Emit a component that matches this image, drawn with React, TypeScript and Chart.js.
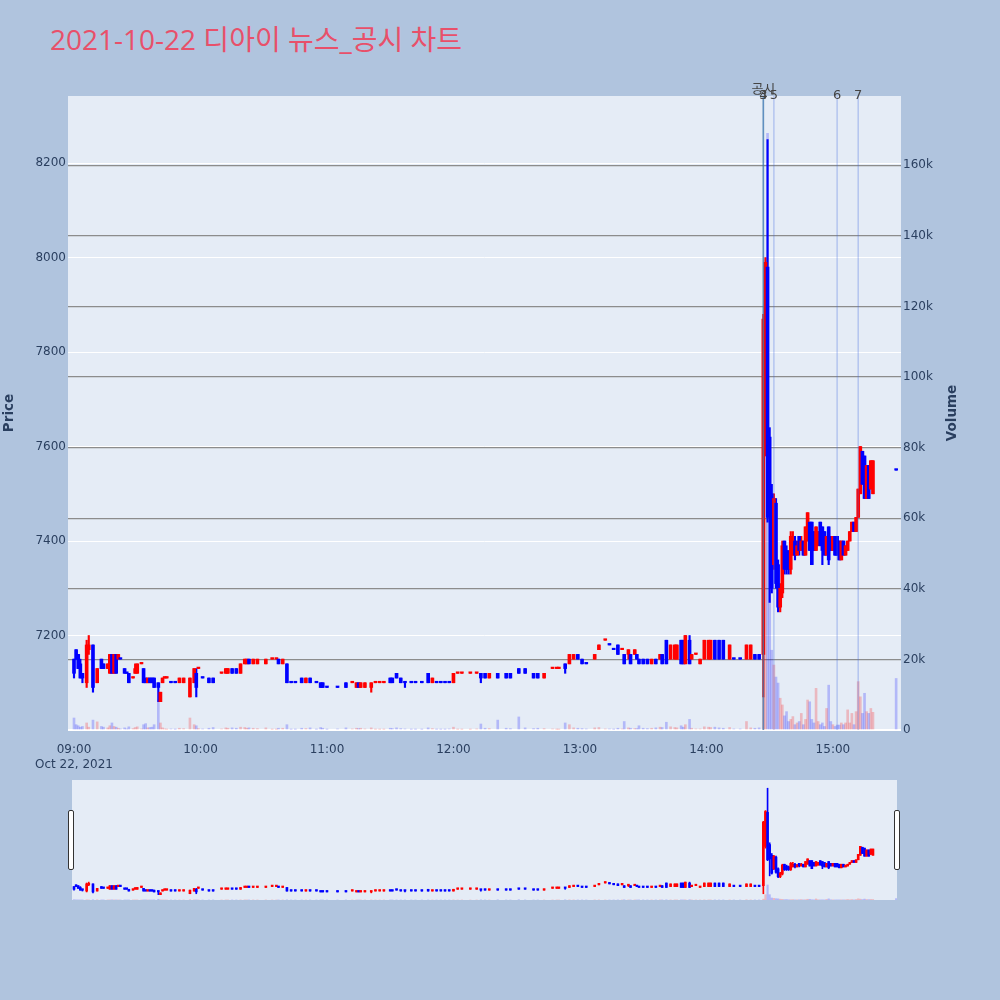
import { useEffect, useRef } from "react"
import { Chart, registerables } from "chart.js"

Chart.register(...registerables)

// 1-minute candles, minutes counted from 09:00
const minutes = [
  // 09:00 - 09:59
  0, 1, 2, 3, 4, 6, 7, 9, 11, 13,
  14, 16, 17, 18, 19, 20, 21, 22, 24, 25,
  26, 28, 29, 30, 32, 33, 34, 35, 36, 37,
  38, 40, 41, 42, 43, 44, 46, 48, 50, 52,
  55, 57, 58, 59,
  // 10:00 - 11:59
  61, 64, 66, 70, 72, 73, 75, 77, 79, 81,
  82, 83, 85, 87, 91, 94, 96, 97, 99, 101,
  103, 105, 108, 110, 112, 115, 117, 118, 120, 125,
  129, 132, 134, 135, 136, 138, 141, 143, 145, 147,
  150, 151, 153, 155, 157, 160, 162, 165, 168, 170,
  172, 174, 176, 178,
  // 12:00 - 13:59
  180, 182, 184, 188, 191, 193, 195, 197, 201, 205,
  207, 211, 214, 218, 220, 223, 227, 229, 230, 233,
  235, 237, 239, 241, 243, 247, 249, 252, 254, 256,
  258, 260, 261, 263, 264, 266, 267, 268, 270, 272,
  274, 276, 278, 279, 281, 283, 285, 286, 288, 289,
  290, 292, 293, 295, 297,
  // 14:00 - 14:26
  299, 301, 302, 304, 306, 308, 311, 313, 316, 319,
  321, 323, 325,
  // 14:27 - 15:30
  327, 328, 329, 330, 331, 332, 333, 334, 335, 336,
  337, 338, 339, 340, 341, 342, 343, 344, 345, 346,
  347, 348, 349, 350, 351, 352, 353, 354, 355, 356,
  357, 358, 359, 360, 361, 362, 363, 364, 365, 366,
  367, 368, 369, 370, 371, 372, 373, 374, 375, 376,
  377, 378, 379, 390,
]

const opens = [
  7150, 7170, 7160, 7140, 7120, 7100, 7170, 7180, 7100, 7150,
  7140, 7130, 7120, 7160, 7120, 7160, 7150, 7150, 7130, 7120,
  7120, 7110, 7120, 7120, 7140, 7130, 7110, 7100, 7110, 7110,
  7110, 7100, 7060, 7100, 7110, 7110, 7100, 7100, 7100, 7100,
  7070, 7100, 7120, 7130,

  7110, 7110, 7110, 7120, 7120, 7120, 7130, 7130, 7120, 7140,
  7140, 7150, 7140, 7140, 7140, 7150, 7150, 7150, 7140, 7140,
  7100, 7100, 7110, 7100, 7110, 7100, 7100, 7100, 7090, 7090,
  7100, 7100, 7090, 7100, 7090, 7090, 7090, 7100, 7100, 7100,
  7110, 7110, 7120, 7110, 7100, 7100, 7100, 7100, 7120, 7100,
  7100, 7100, 7100, 7100,

  7100, 7120, 7120, 7120, 7120, 7120, 7120, 7110, 7120, 7120,
  7120, 7130, 7130, 7120, 7120, 7110, 7130, 7130, 7130, 7140,
  7140, 7150, 7160, 7150, 7140, 7150, 7170, 7190, 7180, 7170,
  7180, 7170, 7160, 7160, 7160, 7160, 7160, 7150, 7150, 7150,
  7140, 7150, 7150, 7160, 7190, 7150, 7150, 7150, 7190, 7190,
  7140, 7190, 7150, 7160, 7140,

  7150, 7150, 7150, 7190, 7190, 7190, 7150, 7150, 7150, 7150,
  7150, 7160, 7160,

  7160, 7600, 7980, 7620, 7500, 7350, 7480, 7350, 7260, 7290,
  7400, 7380, 7370, 7340, 7370, 7400, 7370, 7410, 7380, 7400,
  7370, 7400, 7440, 7440, 7420, 7380, 7390, 7440, 7430, 7420,
  7370, 7430, 7410, 7380, 7410, 7410, 7400, 7360, 7400, 7370,
  7380, 7400, 7420, 7440, 7420, 7450, 7500, 7590, 7580, 7490,
  7560, 7510, 7500, 7550,
]

const highs = [
  7150, 7170, 7160, 7150, 7120, 7190, 7200, 7180, 7130, 7150,
  7140, 7140, 7160, 7160, 7160, 7160, 7160, 7150, 7130, 7120,
  7120, 7110, 7140, 7140, 7140, 7130, 7110, 7110, 7110, 7110,
  7110, 7100, 7080, 7110, 7110, 7110, 7100, 7100, 7110, 7110,
  7110, 7130, 7130, 7130,

  7110, 7110, 7110, 7120, 7130, 7130, 7130, 7130, 7140, 7150,
  7150, 7150, 7150, 7150, 7150, 7150, 7150, 7150, 7150, 7140,
  7100, 7100, 7110, 7110, 7110, 7100, 7100, 7100, 7090, 7090,
  7100, 7100, 7100, 7100, 7100, 7100, 7100, 7100, 7100, 7100,
  7110, 7110, 7120, 7110, 7100, 7100, 7100, 7100, 7120, 7110,
  7100, 7100, 7100, 7100,

  7120, 7120, 7120, 7120, 7120, 7120, 7120, 7120, 7120, 7120,
  7120, 7130, 7130, 7120, 7120, 7120, 7130, 7130, 7130, 7140,
  7160, 7160, 7160, 7150, 7140, 7160, 7180, 7190, 7180, 7170,
  7180, 7170, 7160, 7170, 7160, 7170, 7160, 7150, 7150, 7150,
  7150, 7150, 7160, 7160, 7190, 7180, 7180, 7180, 7190, 7190,
  7200, 7200, 7160, 7160, 7150,

  7190, 7190, 7190, 7190, 7190, 7190, 7180, 7150, 7150, 7180,
  7180, 7160, 7160,

  7880, 8000, 8250, 7640, 7520, 7500, 7490, 7360, 7310, 7400,
  7400, 7390, 7380, 7420, 7420, 7410, 7400, 7410, 7410, 7400,
  7430, 7460, 7440, 7440, 7420, 7430, 7420, 7440, 7430, 7420,
  7410, 7430, 7410, 7410, 7410, 7410, 7400, 7400, 7400, 7390,
  7400, 7420, 7440, 7440, 7450, 7510, 7600, 7590, 7580, 7560,
  7560, 7570, 7570, 7550,
]

const lows = [
  7110, 7150, 7130, 7110, 7100, 7090, 7160, 7080, 7100, 7130,
  7130, 7130, 7120, 7120, 7120, 7120, 7150, 7150, 7120, 7120,
  7100, 7110, 7120, 7120, 7140, 7100, 7100, 7100, 7100, 7100,
  7090, 7060, 7060, 7100, 7110, 7110, 7100, 7100, 7100, 7100,
  7070, 7100, 7070, 7130,

  7110, 7100, 7100, 7120, 7120, 7120, 7120, 7120, 7120, 7140,
  7140, 7140, 7140, 7140, 7140, 7150, 7150, 7140, 7140, 7100,
  7100, 7100, 7100, 7100, 7100, 7100, 7090, 7090, 7090, 7090,
  7090, 7100, 7090, 7090, 7090, 7090, 7080, 7100, 7100, 7100,
  7100, 7100, 7110, 7100, 7090, 7100, 7100, 7100, 7100, 7100,
  7100, 7100, 7100, 7100,

  7100, 7120, 7120, 7120, 7120, 7100, 7110, 7110, 7110, 7110,
  7110, 7120, 7120, 7110, 7110, 7110, 7130, 7130, 7130, 7120,
  7140, 7150, 7150, 7140, 7140, 7150, 7170, 7190, 7180, 7170,
  7160, 7170, 7140, 7150, 7140, 7160, 7150, 7140, 7140, 7140,
  7140, 7140, 7150, 7140, 7140, 7150, 7150, 7150, 7140, 7140,
  7140, 7140, 7150, 7160, 7140,

  7150, 7150, 7150, 7150, 7150, 7150, 7150, 7150, 7150, 7150,
  7150, 7150, 7150,

  7070, 7580, 7440, 7270, 7290, 7340, 7300, 7250, 7250, 7280,
  7330, 7330, 7330, 7330, 7370, 7360, 7370, 7370, 7380, 7370,
  7370, 7400, 7380, 7350, 7380, 7380, 7390, 7390, 7350, 7370,
  7370, 7350, 7380, 7380, 7370, 7370, 7360, 7360, 7370, 7370,
  7380, 7400, 7420, 7420, 7420, 7450, 7500, 7520, 7490, 7490,
  7490, 7510, 7500, 7550,
]

const closes = [
  7120, 7150, 7130, 7110, 7110, 7180, 7180, 7090, 7130, 7130,
  7130, 7140, 7160, 7120, 7160, 7120, 7160, 7150, 7120, 7120,
  7100, 7110, 7130, 7140, 7140, 7100, 7100, 7110, 7100, 7100,
  7090, 7090, 7080, 7110, 7110, 7110, 7100, 7100, 7110, 7110,
  7110, 7130, 7090, 7130,

  7110, 7100, 7100, 7120, 7130, 7130, 7120, 7120, 7140, 7150,
  7150, 7140, 7150, 7150, 7150, 7150, 7150, 7140, 7150, 7100,
  7100, 7100, 7100, 7110, 7100, 7100, 7090, 7090, 7090, 7090,
  7090, 7100, 7100, 7090, 7100, 7100, 7100, 7100, 7100, 7100,
  7100, 7100, 7110, 7100, 7100, 7100, 7100, 7100, 7100, 7110,
  7100, 7100, 7100, 7100,

  7120, 7120, 7120, 7120, 7120, 7110, 7110, 7120, 7110, 7110,
  7110, 7120, 7120, 7110, 7110, 7120, 7130, 7130, 7130, 7130,
  7160, 7160, 7150, 7140, 7140, 7160, 7180, 7190, 7180, 7170,
  7160, 7170, 7140, 7170, 7140, 7170, 7150, 7140, 7140, 7140,
  7150, 7140, 7160, 7140, 7140, 7180, 7180, 7180, 7140, 7140,
  7200, 7140, 7160, 7160, 7150,

  7190, 7190, 7190, 7150, 7150, 7150, 7180, 7150, 7150, 7180,
  7180, 7150, 7150,

  7870, 7990, 7450, 7460, 7300, 7490, 7310, 7260, 7300, 7390,
  7340, 7340, 7340, 7410, 7400, 7370, 7390, 7380, 7400, 7370,
  7430, 7460, 7380, 7350, 7380, 7430, 7420, 7390, 7380, 7370,
  7410, 7360, 7380, 7410, 7370, 7370, 7360, 7400, 7370, 7390,
  7400, 7420, 7440, 7420, 7450, 7510, 7600, 7520, 7490, 7560,
  7490, 7570, 7570, 7550,
]

const volumes = [
  3400, 1500, 1200, 800, 1000, 2000, 800, 2800, 2300, 1000,
  800, 600, 1200, 2000, 1000, 800, 500, 300, 600, 300,
  900, 400, 700, 900, 300, 1500, 1800, 600, 700, 800,
  1500, 8500, 2000, 600, 300, 200, 300, 200, 500, 400,
  3400, 1500, 1200, 400,

  300, 500, 700, 300, 600, 500, 600, 500, 800, 700,
  500, 600, 500, 400, 600, 200, 200, 500, 500, 1500,
  200, 200, 500, 400, 600, 200, 700, 500, 200, 300,
  600, 300, 500, 400, 500, 300, 600, 200, 200, 200,
  500, 400, 600, 400, 300, 200, 200, 200, 600, 400,
  200, 200, 200, 300,

  800, 200, 200, 200, 300, 1700, 500, 400, 2800, 500,
  400, 3700, 600, 400, 500, 400, 300, 200, 200, 2000,
  1500, 600, 500, 400, 300, 600, 700, 300, 300, 200,
  500, 300, 2400, 600, 500, 400, 400, 1200, 500, 400,
  500, 600, 800, 700, 2200, 900, 700, 600, 1200, 800,
  1500, 3000, 500, 300, 300,

  900, 800, 700, 800, 600, 500, 700, 300, 300, 2400,
  600, 500, 600,

  9300, 60000, 169000, 60000, 22600, 18400, 15000, 13300, 9000, 7100,
  4000, 5200, 2400, 3000, 3800, 1500, 2000, 2400, 4700, 1500,
  3000, 8500, 8000, 3000, 2000, 11800, 2400, 1500, 2000, 1000,
  6100, 12700, 2400, 1500, 1000, 1400, 1400, 2000, 1500, 2000,
  5700, 2000, 4700, 1500, 5200, 13700, 9400, 4700, 10400, 5200,
  4700, 6100, 5000, 14600,
]

const priceTicks = [7000, 7200, 7400, 7600, 7800, 8000, 8200]
const volumeTicks = [0, 20000, 40000, 60000, 80000, 100000, 120000, 140000, 160000]
const hourTicks = [0, 60, 120, 180, 240, 300, 360]
const hourLabels = ["09:00", "10:00", "11:00", "12:00", "13:00", "14:00", "15:00"]
const dateLabel = "Oct 22, 2021"

// news / disclosure markers
const eventMinutes = [327, 327, 327, 332, 362, 372]
const eventLabels = ["공시", "3", "4", "5", "6", "7"]

const TITLE_FONT = "'Open Sans', 'Noto Sans CJK KR', sans-serif"
const FONT = "'DejaVu Sans', 'Noto Sans CJK KR', verdana, sans-serif"
const AXIS_COLOR = "#2a3f5f"
const PLOT_BG = "#e5ecf6"
const UP = "#ff0000"
const DOWN = "#0000ff"

// Plotly style: open == close takes the direction from the previous close
function candleDirections() {
  const dirs: boolean[] = []
  let up = true
  let prevClose: number | null = null
  minutes.forEach((_, i) => {
    if (closes[i] > opens[i]) up = true
    else if (closes[i] < opens[i]) up = false
    else if (prevClose !== null && closes[i] !== prevClose) up = closes[i] > prevClose
    dirs.push(up)
    prevClose = closes[i]
  })
  return dirs
}

function buildDatasets(bodyWidth: number, wickWidth: number, volWidth: number): any[] {
  const dirs = candleDirections()
  const colors = dirs.map((u) => (u ? UP : DOWN))
  return [
    {
      label: "body",
      data: minutes.map((t, i) => ({ x: t, y: [opens[i], closes[i]] })),
      backgroundColor: colors,
      barThickness: bodyWidth,
      minBarLength: 1.5,
      grouped: false,
      yAxisID: "y",
      order: 1,
    },
    {
      label: "wick",
      data: minutes.map((t, i) => ({ x: t, y: [lows[i], highs[i]] })),
      backgroundColor: colors,
      barThickness: wickWidth,
      minBarLength: 1,
      grouped: false,
      yAxisID: "y",
      order: 2,
    },
    {
      label: "volume",
      data: minutes.map((t, i) => ({ x: t, y: volumes[i] })),
      backgroundColor: dirs.map((u) => (u ? "rgba(255,0,0,0.22)" : "rgba(0,0,255,0.22)")),
      barThickness: volWidth,
      grouped: false,
      yAxisID: "y2",
      order: 3,
    },
  ]
}

const plotBackground = {
  id: "plotBackground",
  beforeDraw(chart: Chart) {
    const { ctx, chartArea } = chart
    ctx.save()
    ctx.fillStyle = PLOT_BG
    ctx.fillRect(chartArea.left, chartArea.top, chartArea.right - chartArea.left, chartArea.bottom - chartArea.top)
    ctx.restore()
  },
}

const eventLines = {
  id: "eventLines",
  afterDatasetsDraw(chart: Chart) {
    const { ctx, chartArea, scales } = chart
    ctx.save()
    ctx.lineWidth = 1.5
    eventMinutes.forEach((t, i) => {
      const x = scales.x.getPixelForValue(t)
      ctx.strokeStyle = i === 0 ? "rgba(46,139,87,0.55)" : "rgba(65,105,225,0.3)"
      ctx.beginPath()
      ctx.moveTo(x, chartArea.top)
      ctx.lineTo(x, chartArea.bottom)
      ctx.stroke()
    })
    ctx.font = `13px ${FONT}`
    ctx.fillStyle = "#444444"
    ctx.textAlign = "center"
    ctx.textBaseline = "middle"
    eventMinutes.forEach((t, i) => {
      const x = scales.x.getPixelForValue(t)
      ctx.fillText(eventLabels[i], x, chartArea.top - (i === 0 ? 6 : 0))
    })

    // volume axis title, rotated like the price title
    ctx.font = `bold 13.5px ${FONT}`
    ctx.fillStyle = AXIS_COLOR
    ctx.translate(scales.y2.right - 9.5, (chartArea.top + chartArea.bottom) / 2)
    ctx.rotate(-Math.PI / 2)
    ctx.fillText("Volume", 0, 0)
    ctx.restore()
  },
}

export default function App() {
  const mainRef = useRef<HTMLCanvasElement>(null)
  const sliderRef = useRef<HTMLCanvasElement>(null)

  useEffect(() => {
    if (!mainRef.current || !sliderRef.current) return

    const tickFont = { family: FONT, size: 12 }

    const main = new Chart(mainRef.current, {
      type: "bar",
      data: { datasets: buildDatasets(3, 1.5, 2) },
      options: {
        responsive: false,
        animation: false,
        events: [],
        layout: { padding: { left: 0, right: 38, top: 96, bottom: 0 } },
        plugins: { legend: { display: false }, tooltip: { enabled: false } },
        scales: {
          x: {
            type: "linear",
            min: -2.85,
            max: 392.3,
            offset: false,
            grid: { display: false },
            border: { display: false },
            afterBuildTicks: (s: any) => {
              s.ticks = hourTicks.map((v) => ({ value: v }))
            },
            afterFit: (s: any) => {
              s.height = 45
            },
            ticks: {
              autoSkip: false,
              maxRotation: 0,
              padding: 5,
              color: AXIS_COLOR,
              font: tickFont,
              callback: (value: any) => {
                const i = hourTicks.indexOf(Number(value))
                const label = hourLabels[i] ?? ""
                return i === 0 ? [label, dateLabel] : label
              },
            },
          },
          y: {
            type: "linear",
            position: "left",
            min: 7000,
            max: 8342,
            grid: { color: "#ffffff", lineWidth: 1, drawTicks: false },
            border: { display: false },
            afterBuildTicks: (s: any) => {
              s.ticks = priceTicks.map((v) => ({ value: v }))
            },
            afterFit: (s: any) => {
              s.width = 68
            },
            ticks: {
              padding: 2,
              color: AXIS_COLOR,
              font: tickFont,
              callback: (value: any) => (Number(value) === 7000 ? "" : String(value)),
            },
            title: {
              display: true,
              text: "Price",
              color: AXIS_COLOR,
              font: { family: FONT, size: 13.5, weight: "bold" },
              padding: { top: 1, bottom: 1 },
            },
          },
          y2: {
            type: "linear",
            position: "right",
            min: 0,
            max: 179600,
            grid: {
              color: (c: any) => (c.tick && c.tick.value === 0 ? "#ffffff" : "#8c8c8c"),
              lineWidth: (c: any) => (c.tick && c.tick.value === 0 ? 2 : 1.3),
              drawTicks: false,
            },
            border: { display: false },
            afterBuildTicks: (s: any) => {
              s.ticks = volumeTicks.map((v) => ({ value: v }))
            },
            afterFit: (s: any) => {
              s.width = 61
            },
            ticks: {
              padding: 2,
              color: AXIS_COLOR,
              font: tickFont,
              callback: (value: any) => (Number(value) === 0 ? "0" : Number(value) / 1000 + "k"),
            },
          },
        },
      } as any,
      plugins: [plotBackground, eventLines],
    })

    const slider = new Chart(sliderRef.current, {
      type: "bar",
      data: { datasets: buildDatasets(2, 1, 1.5) },
      options: {
        responsive: false,
        animation: false,
        events: [],
        layout: { padding: 0 },
        plugins: { legend: { display: false }, tooltip: { enabled: false } },
        scales: {
          x: { type: "linear", min: -0.95, max: 390.4, offset: false, display: false },
          y: { type: "linear", min: 7000, max: 8342, display: false },
          y2: { type: "linear", min: 0, max: 1350000, display: false },
        },
      } as any,
      plugins: [plotBackground],
    })

    return () => {
      main.destroy()
      slider.destroy()
    }
  }, [])

  const handle = {
    position: "absolute" as const,
    top: 810,
    width: 4,
    height: 58,
    background: "#ffffff",
    border: "1px solid #333333",
    borderRadius: 2,
  }

  return (
    <div
      style={{
        position: "absolute",
        left: 0,
        top: 0,
        width: 1000,
        height: 1000,
        background: "#b0c4de",
        overflow: "hidden",
      }}
    >
      <div
        style={{
          position: "absolute",
          left: 50,
          top: 25,
          fontFamily: TITLE_FONT,
          fontSize: 28,
          lineHeight: "28px",
          color: "#e8506a",
          whiteSpace: "nowrap",
        }}
      >
        2021-10-22 디아이 뉴스_공시 차트
      </div>
      <canvas ref={mainRef} width={1000} height={775} style={{ position: "absolute", left: 0, top: 0 }} />
      <canvas ref={sliderRef} width={825} height={120} style={{ position: "absolute", left: 72, top: 780 }} />
      <div style={{ ...handle, left: 68 }} />
      <div style={{ ...handle, left: 894 }} />
    </div>
  )
}
